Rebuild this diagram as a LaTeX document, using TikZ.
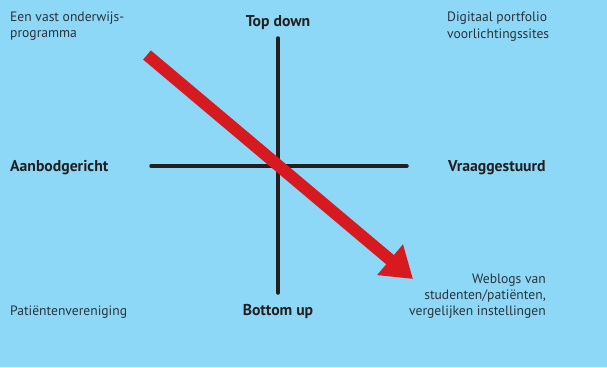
\documentclass[tikz,border=0pt]{standalone}
\usepackage{fontspec}
\setmainfont{PT Sans}
\usetikzlibrary{arrows.meta}
\definecolor{bg}{RGB}{140,216,246}
\definecolor{ink}{RGB}{35,31,32}
\definecolor{txt}{RGB}{45,50,60}
\definecolor{redarrow}{RGB}{215,25,32}
\tikzset{
  axis/.style={draw=ink, line width=3.5pt, line cap=round},
  head/.style={font=\fontsize{15.7}{18}\selectfont\bfseries, text=ink, inner sep=0pt, anchor=base},
  lbl/.style={font=\fontsize{13.6}{16.3}\selectfont, text=txt, inner sep=0pt},
  bigarrow/.style={draw=redarrow, line width=12pt, -{Triangle[length=30pt,width=38pt]}}
}
\begin{document}
\begin{tikzpicture}[x=1pt,y=-1pt]
\fill[bg] (0,0) rectangle (607,367);
\useasboundingbox (0,0) rectangle (607,367);
\coordinate (vt) at (278,38);
\coordinate (vb) at (278,293);
\coordinate (hl) at (151,166);
\coordinate (hr) at (407,166);
\draw[axis] (vt) -- (vb);
\draw[axis] (hl) -- (hr);
\coordinate (as) at (147,55);
\coordinate (ae) at (413,279);
\draw[bigarrow] (as) -- (ae);
\node[head] (td) at (278,26) {Top down};
\node[head] (bu) at (278,315) {Bottom up};
\node[head, anchor=base west] (ag) at (10,171) {Aanbodgericht};
\node[head, anchor=base west] (vg) at (448,171) {Vraaggestuurd};
\node[lbl, anchor=north west, align=left] (ev) at (10,11.7) {Een vast onderwijs-\\programma};
\node[lbl, anchor=north west, align=left] (dp) at (447,11.9) {Digitaal portfolio\\voorlichtingssites};
\node[lbl, anchor=north east, align=right] (wb) at (546,273.5) {Weblogs van\\studenten/patiënten,\\vergelijken instellingen};
\node[lbl, anchor=base west] (pv) at (10,315) {Patiëntenvereniging};
\end{tikzpicture}
\end{document}
